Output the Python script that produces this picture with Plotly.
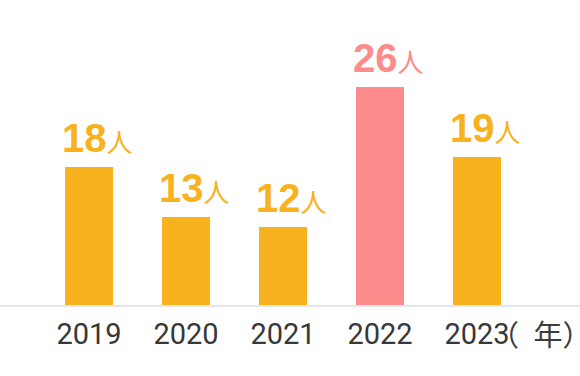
import plotly.graph_objects as go

years = ["2019", "2020", "2021", "2022", "2023"]
people = [18, 13, 12, 26, 19]
bar_colors = ["#F7B21E", "#F7B21E", "#F7B21E", "#FD8B8B", "#F7B21E"]
unit_label = "人"
year_suffix = "（\u2002年）"

fig = go.Figure()
fig.add_trace(go.Bar(
    x=list(range(len(years))), y=people, width=0.495,
    marker=dict(color=bar_colors, line=dict(width=0)),
    hoverinfo="skip",
))

for i, (v, c) in enumerate(zip(people, bar_colors)):
    fig.add_annotation(
        x=i, y=v, xref="x", yref="y", xanchor="center", yanchor="bottom",
        text=f"<b>{v}</b><span style='font-size:26px'>{unit_label}</span>",
        showarrow=False, yshift=5, xshift=8,
        font=dict(family="Liberation Sans, Noto Sans CJK JP", size=40, color=c),
    )

fig.add_annotation(
    x=4, y=0, xref="x", yref="paper", xanchor="left", yanchor="top",
    text=year_suffix, showarrow=False, xshift=11, yshift=-5,
    font=dict(family="Noto Sans CJK JP", size=29, color="#3C3C3C"),
)

fig.update_layout(
    width=580, height=376,
    margin=dict(l=0, r=0, t=0, b=71, autoexpand=False),
    paper_bgcolor="white", plot_bgcolor="white",
    showlegend=False,
    xaxis=dict(
        range=[-0.918, 5.062], tickmode="array",
        tickvals=list(range(len(years))), ticktext=years,
        showgrid=False, zeroline=False, automargin=False,
        showline=True, linecolor="#E4E6EE", linewidth=2,
        ticks="outside", ticklen=2, tickcolor="rgba(0,0,0,0)",
        tickfont=dict(family="Roboto", size=29, color="#383838"),
        fixedrange=True,
    ),
    yaxis=dict(range=[4.2, 34.7], visible=False, fixedrange=True, automargin=False),
)

fig.write_html("out.html", config={"displayModeBar": False},
               post_script="document.body.style.margin='0px';")
